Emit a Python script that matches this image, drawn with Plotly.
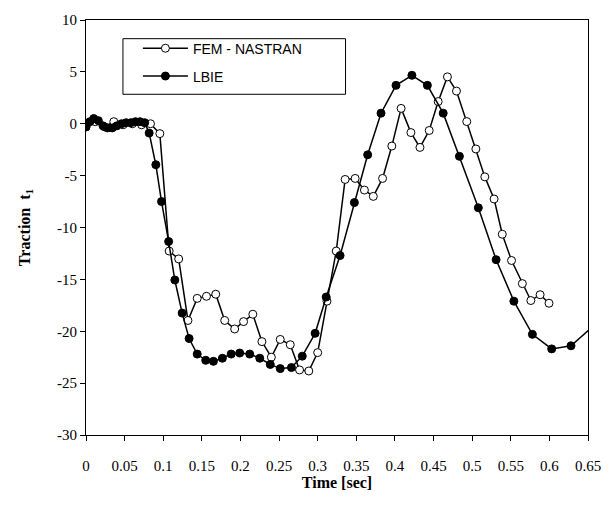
import plotly.graph_objects as go

# ---- data ----
fem_t = [0.0, 0.012, 0.024, 0.036, 0.048, 0.06, 0.072, 0.0835, 0.0956, 0.1077,
         0.120, 0.132, 0.144, 0.156, 0.168, 0.1796, 0.1925, 0.204, 0.216, 0.2278,
         0.240, 0.2515, 0.2645, 0.2765, 0.2885, 0.300, 0.312, 0.324, 0.3355, 0.3485,
         0.3605, 0.372, 0.384, 0.396, 0.408, 0.4207, 0.4324, 0.4444, 0.456, 0.468,
         0.4797, 0.493, 0.5048, 0.5164, 0.5284, 0.539, 0.551, 0.565, 0.576, 0.588,
         0.5995]
fem_v = [-0.3, 0.2, -0.3, 0.2, -0.1, 0.0, -0.1, 0.0, -0.95, -12.27,
         -13.03, -18.96, -16.83, -16.63, -16.43, -18.96, -19.78, -19.07, -18.36, -21.0,
         -22.5, -20.79, -21.3, -23.73, -23.83, -22.06, -17.1, -12.27, -5.37, -5.27,
         -6.39, -7.0, -5.27, -2.15, 1.48, -0.85, -2.28, -0.65, 2.14, 4.52,
         3.15, 0.21, -2.43, -5.12, -7.25, -10.65, -13.18, -15.41, -17.04, -16.48,
         -17.3]

lbie_t = [0.0, 0.005, 0.01, 0.016, 0.022, 0.028, 0.034, 0.04, 0.046, 0.052,
          0.058, 0.064, 0.07, 0.076, 0.0818, 0.0904, 0.0978, 0.107, 0.115, 0.1245,
          0.1335, 0.144, 0.155, 0.165, 0.1766, 0.188, 0.199, 0.212, 0.225, 0.2386,
          0.2515, 0.266, 0.280, 0.2967, 0.311, 0.329, 0.3475, 0.3647, 0.382, 0.4014,
          0.422, 0.442, 0.4625, 0.4835, 0.508, 0.531, 0.554, 0.578, 0.603, 0.628,
          0.66]
lbie_v = [-0.3, 0.2, 0.5, 0.3, -0.2, -0.4, -0.4, -0.2, 0.0, 0.1,
          0.1, 0.2, 0.2, 0.1, -0.9, -3.95, -7.5, -11.35, -15.06, -18.25,
          -20.7, -22.2, -22.8, -22.9, -22.6, -22.2, -22.1, -22.2, -22.6, -23.2,
          -23.6, -23.5, -22.4, -20.2, -16.7, -12.7, -7.6, -2.99, 1.02, 3.7,
          4.67, 3.7, 1.02, -3.14, -8.1, -13.1, -17.1, -20.3, -21.7, -21.4,
          -19.3]

x_ticks = [0, 0.05, 0.1, 0.15, 0.2, 0.25, 0.3, 0.35, 0.4, 0.45, 0.5, 0.55, 0.6, 0.65]
x_tick_labels = ["0", "0.05", "0.1", "0.15", "0.2", "0.25", "0.3", "0.35", "0.4",
                 "0.45", "0.5", "0.55", "0.6", "0.65"]
y_ticks = [10, 5, 0, -5, -10, -15, -20, -25, -30]
y_tick_labels = ["10", "5", "0", "-5", "-10", "-15", "-20", "-25", "-30"]

serif = "Liberation Serif, Times New Roman, serif"
sans = "Liberation Sans, Arial, sans-serif"

fig = go.Figure()
fig.add_trace(go.Scatter(
    x=fem_t, y=fem_v, mode="lines+markers", name="FEM - NASTRAN", showlegend=True,
    line=dict(color="black", width=1.5),
    marker=dict(symbol="circle", size=8, color="white", line=dict(color="black", width=1)),
    legend="legend"))
fig.add_trace(go.Scatter(
    x=lbie_t, y=lbie_v, mode="lines+markers", name="LBIE", showlegend=True,
    line=dict(color="black", width=1.5),
    marker=dict(symbol="circle", size=8, color="black", line=dict(color="black", width=1)),
    legend="legend2"))

axis_common = dict(showline=True, linecolor="black", linewidth=1, mirror=True,
                   showgrid=False, zeroline=False, ticks="outside", ticklen=5,
                   tickcolor="black", tickwidth=1,
                   tickfont=dict(family=serif, size=15, color="black"))

legend_common = dict(xanchor="left", yanchor="middle", bgcolor="rgba(0,0,0,0)",
                     borderwidth=0, itemwidth=45,
                     font=dict(family=sans, size=14, color="black"))

fig.update_layout(
    width=613, height=512,
    margin=dict(l=86, r=24, t=15, b=77),
    paper_bgcolor="white", plot_bgcolor="white",
    showlegend=True,
    xaxis=dict(range=[0, 0.65], tickvals=x_ticks, ticktext=x_tick_labels,
               ticklabelstandoff=12,
               title=dict(text="Time [sec]", font=dict(family=serif, size=16, color="black", weight="bold"),
                          standoff=3),
               **axis_common),
    yaxis=dict(range=[-30, 10], tickvals=y_ticks, ticktext=y_tick_labels,
               title=dict(text="Traction\u00a0\u00a0t<sub>1</sub>",
                          font=dict(family=serif, size=16, color="black", weight="bold"),
                          standoff=22),
               **axis_common),
    legend=dict(x=0.1034, y=0.931, **legend_common),
    legend2=dict(x=0.1034, y=0.864, **legend_common),
    shapes=[dict(type="rect", xref="paper", yref="paper",
                 x0=0.0736, x1=0.517, y0=0.821, y1=0.955,
                 line=dict(color="black", width=1), fillcolor="rgba(0,0,0,0)")],
)

fig.write_html("out.html")
